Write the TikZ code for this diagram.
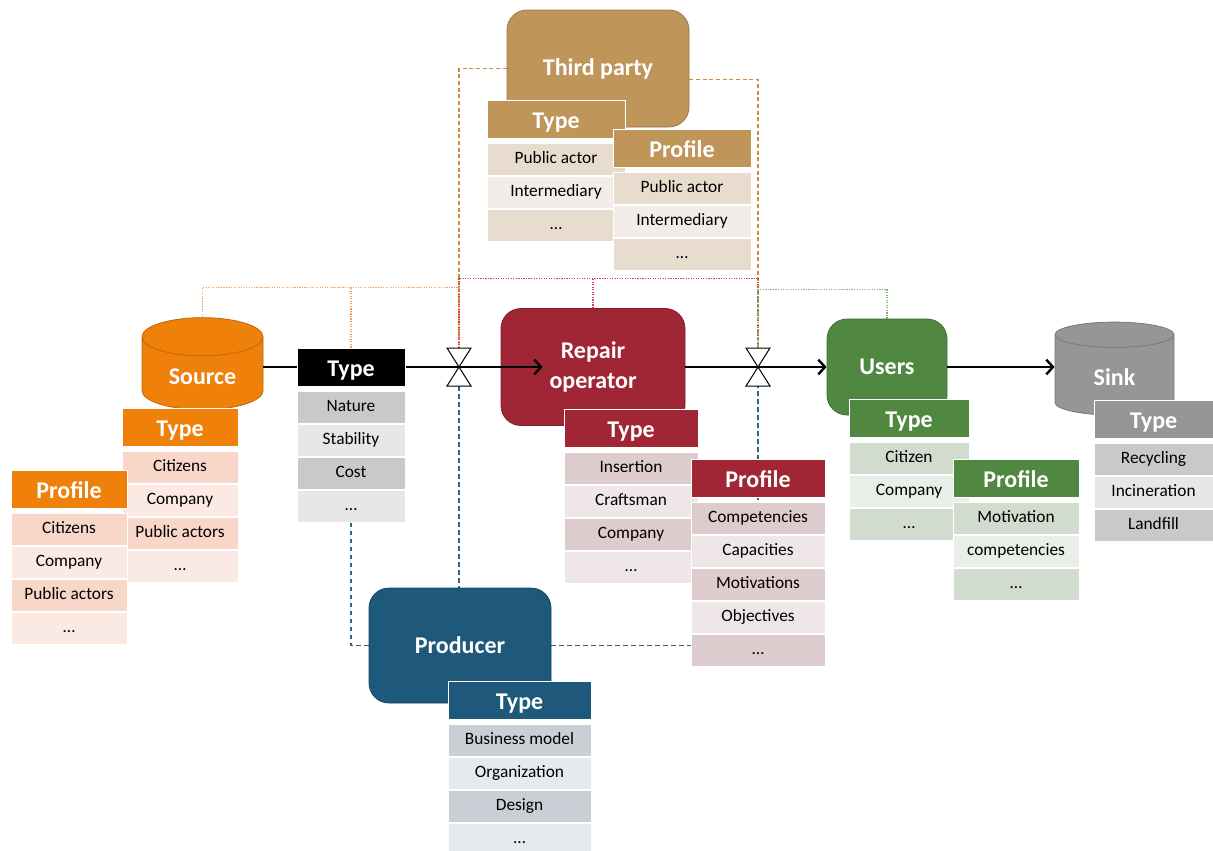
\documentclass[tikz,border=0pt]{standalone}
\usepackage{fontspec}
\setmainfont{Carlito}
\usepackage{tikz}
\usetikzlibrary{shapes.geometric,arrows.meta,positioning,backgrounds}

\definecolor{tpcol}{RGB}{192,149,90}
\definecolor{tpdk}{RGB}{232,220,207}
\definecolor{tplt}{RGB}{242,237,232}
\definecolor{srccol}{RGB}{239,128,10}
\definecolor{srcdk}{RGB}{248,214,200}
\definecolor{srclt}{RGB}{251,234,228}
\definecolor{gydk}{RGB}{201,201,201}
\definecolor{gylt}{RGB}{231,231,231}
\definecolor{repcol}{RGB}{160,38,54}
\definecolor{repdk}{RGB}{221,203,205}
\definecolor{replt}{RGB}{239,230,231}
\definecolor{usrcol}{RGB}{80,136,66}
\definecolor{usrdk}{RGB}{209,220,207}
\definecolor{usrlt}{RGB}{233,238,232}
\definecolor{snkcol}{RGB}{150,150,150}
\definecolor{prdcol}{RGB}{30,88,122}
\definecolor{prddk}{RGB}{202,207,214}
\definecolor{prdlt}{RGB}{230,234,237}

\begin{document}
\begin{tikzpicture}[x=0.75pt, y=-0.75pt,
    actor/.style={rectangle, rounded corners=15pt, draw=#1!80!black, fill=#1, line width=0.6pt,
        text=white, align=center, font=\fontsize{18}{22}\selectfont\bfseries},
    store/.style={cylinder, shape border rotate=90, aspect=0.5, draw=#1!80!black, fill=#1, line width=0.6pt,
        text=white, font=\fontsize{18}{22}\selectfont\bfseries},
    hd/.style={rectangle, draw=white, line width=0.75pt, fill=#1, minimum height=28.5pt, inner sep=0pt,
        text height=14pt, text depth=0pt, text=white, font=\fontsize{18}{22}\selectfont\bfseries},
    rw/.style={rectangle, draw=white, line width=0.75pt, fill=#1, minimum height=24pt, inner sep=0pt,
        text height=9pt, text depth=3pt, font=\fontsize{13}{15}\selectfont},
    tbl/.style={nodes={minimum width=#1}},
    flow/.style={line width=1.8pt, -{Straight Barb[length=5pt,width=11pt]}},
    valve/.style={draw, fill=white, line width=0.75pt},
    tpdash/.style={draw={rgb,255:red,205;green,140;blue,70}, dash pattern=on 3pt off 2pt, line width=0.8pt},
    srcdot/.style={draw={rgb,255:red,242;green,160;blue,90}, densely dotted, line width=0.9pt},
    repdot/.style={draw={rgb,255:red,200;green,70;blue,80}, densely dotted, line width=0.9pt},
    usrdot/.style={draw={rgb,255:red,130;green,180;blue,110}, densely dotted, line width=0.9pt},
    prddash/.style={draw={rgb,255:red,40;green,100;blue,140}, dash pattern=on 3.5pt off 2.5pt, line width=0.9pt}]

    \useasboundingbox (0,0) rectangle (1213,850);

    % third party
    \node (tp) [actor=tpcol, minimum width=136.5pt, minimum height=87.75pt] at (598,68.5) {Third party};
    \begin{scope}[tbl=103.5pt]
        \node (tpt) [hd=tpcol] at (556,119.5) {Type};
        \node (tpt1) [rw=tpdk, below=3pt of tpt] {Public actor};
        \node (tpt2) [rw=tplt, below=0pt of tpt1] {Intermediary};
        \node (tpt3) [rw=tpdk, below=0pt of tpt2] {…};
        \node (tpp) [hd=tpcol] at (682,148) {Profile};
        \node (tpp1) [rw=tpdk, below=3pt of tpp] {Public actor};
        \node (tpp2) [rw=tplt, below=0pt of tpp1] {Intermediary};
        \node (tpp3) [rw=tpdk, below=0pt of tpp2] {…};
    \end{scope}

    % source
    \node (src) [store=srccol, minimum width=90.75pt, minimum height=69pt] at (202.5,377) {Source};
    \begin{scope}[tbl=87pt]
        \node (srct) [hd=srccol] at (180,427.5) {Type};
        \node (srct1) [rw=srcdk, below=3pt of srct] {Citizens};
        \node (srct2) [rw=srclt, below=0pt of srct1] {Company};
        \node (srct3) [rw=srcdk, below=0pt of srct2] {Public actors};
        \node (srct4) [rw=srclt, below=0pt of srct3] {…};
        \node (srcp) [hd=srccol] at (69,489) {Profile};
        \node (srcp1) [rw=srcdk, below=3pt of srcp] {Citizens};
        \node (srcp2) [rw=srclt, below=0pt of srcp1] {Company};
        \node (srcp3) [rw=srcdk, below=0pt of srcp2] {Public actors};
        \node (srcp4) [rw=srclt, below=0pt of srcp3] {…};
    \end{scope}

    % flow type
    \begin{scope}[tbl=81pt]
        \node (ft) [hd=black] at (351,367) {Type};
        \node (ft1) [rw=gydk, below=3pt of ft] {Nature};
        \node (ft2) [rw=gylt, below=0pt of ft1] {Stability};
        \node (ft3) [rw=gydk, below=0pt of ft2] {Cost};
        \node (ft4) [rw=gylt, below=0pt of ft3] {…};
    \end{scope}

    % repair operator
    \node (rep) [actor=repcol, minimum width=138pt, minimum height=87.75pt] at (593,367) {Repair\\operator};
    \begin{scope}[tbl=100.5pt]
        \node (rept) [hd=repcol] at (631,428.5) {Type};
        \node (rept1) [rw=repdk, below=3pt of rept] {Insertion};
        \node (rept2) [rw=replt, below=0pt of rept1] {Craftsman};
        \node (rept3) [rw=repdk, below=0pt of rept2] {Company};
        \node (rept4) [rw=replt, below=0pt of rept3] {…};
        \node (repp) [hd=repcol] at (758,478.5) {Profile};
        \node (repp1) [rw=repdk, below=3pt of repp] {Competencies};
        \node (repp2) [rw=replt, below=0pt of repp1] {Capacities};
        \node (repp3) [rw=repdk, below=0pt of repp2] {Motivations};
        \node (repp4) [rw=replt, below=0pt of repp3] {Objectives};
        \node (repp5) [rw=repdk, below=0pt of repp4] {…};
    \end{scope}

    % users
    \node (usr) [actor=usrcol, minimum width=90pt, minimum height=72pt] at (887,367) {Users};
    \begin{scope}[tbl=90pt]
        \node (usrt) [hd=usrcol] at (909,418) {Type};
        \node (usrt1) [rw=usrdk, below=3pt of usrt] {Citizen};
        \node (usrt2) [rw=usrlt, below=0pt of usrt1] {Company};
        \node (usrt3) [rw=usrdk, below=0pt of usrt2] {…};
    \end{scope}
    \begin{scope}[tbl=94.5pt]
        \node (usrp) [hd=usrcol] at (1016,478.5) {Profile};
        \node (usrp1) [rw=usrdk, below=3pt of usrp] {Motivation};
        \node (usrp2) [rw=usrlt, below=0pt of usrp1] {competencies};
        \node (usrp3) [rw=usrdk, below=0pt of usrp2] {…};
    \end{scope}

    % sink
    \node (snk) [store=snkcol, minimum width=89.25pt, minimum height=69.75pt] at (1114.5,377.5) {Sink};
    \begin{scope}[tbl=89.25pt]
        \node (snkt) [hd=snkcol] at (1153.5,419.5) {Type};
        \node (snkt1) [rw=gydk, below=3pt of snkt] {Recycling};
        \node (snkt2) [rw=gylt, below=0pt of snkt1] {Incineration};
        \node (snkt3) [rw=gydk, below=0pt of snkt2] {Landfill};
    \end{scope}

    % producer
    \node (prd) [actor=prdcol, minimum width=136.5pt, minimum height=86.25pt] at (460,645.5) {Producer};
    \begin{scope}[tbl=107.25pt]
        \node (prdt) [hd=prdcol] at (519.5,700) {Type};
        \node (prdt1) [rw=prddk, below=3pt of prdt] {Business model};
        \node (prdt2) [rw=prdlt, below=0pt of prdt1] {Organization};
        \node (prdt3) [rw=prddk, below=0pt of prdt2] {Design};
        \node (prdt4) [rw=prdlt, below=0pt of prdt3] {…};
    \end{scope}

    % valves
    \coordinate (v1) at (459,367);
    \coordinate (v1t) at ([yshift=14.25pt]v1);
    \coordinate (v1b) at ([yshift=-14.25pt]v1);
    \coordinate (v2) at (758,367);
    \coordinate (v2t) at ([yshift=14.25pt]v2);
    \coordinate (v2b) at ([yshift=-14.25pt]v2);
    \draw[valve] (v1) -- ++(-12,-19) -- ++(24,0) -- cycle (v1) -- ++(-12,19) -- ++(24,0) -- cycle;
    \draw[valve] (v2) -- ++(-12,-19) -- ++(24,0) -- cycle (v2) -- ++(-12,19) -- ++(24,0) -- cycle;

    % flows
    \draw[line width=1.8pt] (src.east |- ft.west) -- (ft.west);
    \draw[flow] (ft.east) -- (v1) -- ([xshift=31.5pt]rep.west);
    \draw[flow] (rep.east) -- (v2) -- (usr.west);
    \draw[flow] (usr.east) -- (snk.west |- usr.east);

    % links
    \begin{scope}[on background layer]
        \draw[tpdash] (tp.west) -| (v1t);
        \draw[tpdash] ([yshift=-8pt]tp.east) -| (v2t);
        \draw[srcdot] (src.north) |- ([yshift=45pt]ft.north) -| (v1t);
        \draw[srcdot] (ft.north) -- ++(0,-60);
        \draw[repdot] (rep.north) -- ++(0,-30) coordinate (rtop);
        \draw[repdot] (v1t) |- (rtop) -| (v2t);
        \draw[usrdot] (usr.north) -- ++(0,-29) -| (v2t);
        \draw[prddash] (v1b) -- (v1b |- prd.north);
        \draw[prddash] (ft4.south) |- (prd.west);
        \draw[prddash] (prd.east) -| (v2b);
    \end{scope}
\end{tikzpicture}
\end{document}
